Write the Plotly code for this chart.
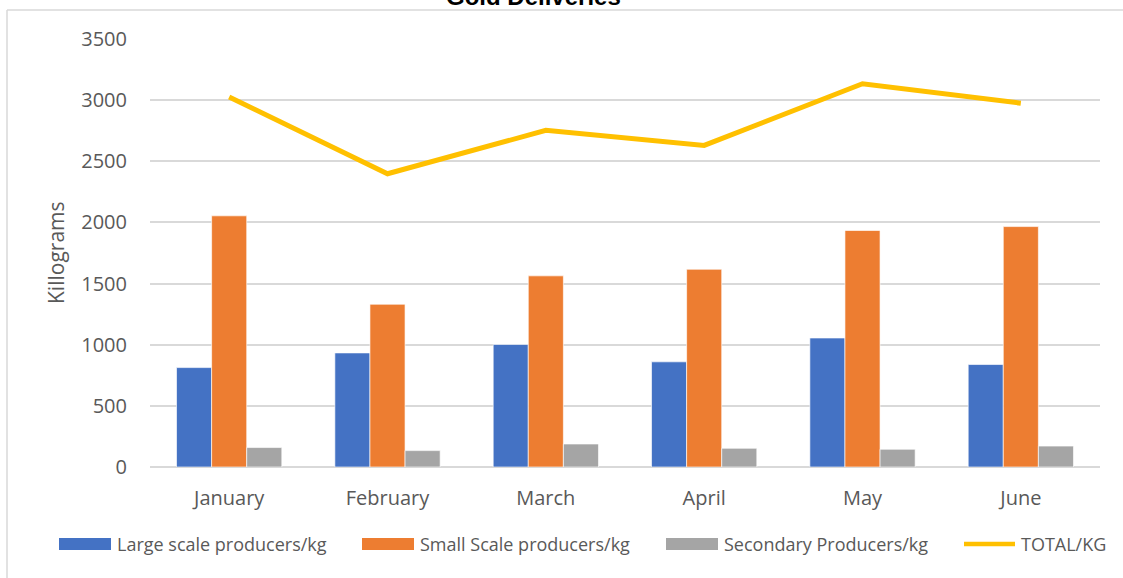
import plotly.graph_objects as go

# Monthly gold deliveries (kg)
months = ["January", "February", "March", "April", "May", "June"]
large_scale = [813, 933, 1002, 860, 1055, 838]
small_scale = [2054, 1331, 1563, 1617, 1934, 1966]
secondary = [159, 134, 188, 153, 145, 171]
total = [3026, 2398, 2753, 2630, 3134, 2975]

series_names = ["Large scale producers/kg", "Small Scale producers/kg",
                "Secondary Producers/kg", "TOTAL/KG"]
colors = ["#4472C4", "#ED7D31", "#A5A5A5", "#FFC000"]

W, H = 1123, 578
L, R, T, B = 150, 23, 39, 111
PW, PH = W - L - R, H - T - B

def px(x):
    return (x - L) / PW

def py(y):
    return (H - B - y) / PH

fig = go.Figure()
for vals, name, col in zip([large_scale, small_scale, secondary], series_names[:3], colors[:3]):
    fig.add_trace(go.Bar(x=months, y=vals, name=name, marker_color=col,
                         marker_line=dict(color="rgba(255,255,255,0.8)", width=0.8),
                         showlegend=False))
fig.add_trace(go.Scatter(x=months, y=total, name=series_names[3], mode="lines",
                         line=dict(color=colors[3], width=5), showlegend=False))

font_family = "Open Sans"
tick_color = "#595959"

fig.update_layout(
    width=W, height=H,
    margin=dict(l=L, r=R, t=T, b=B),
    paper_bgcolor="white", plot_bgcolor="white",
    barmode="group", bargap=0.335, bargroupgap=0,
    font=dict(family=font_family, color=tick_color),
    xaxis=dict(showgrid=False, showline=False, ticks="", zeroline=False,
               ticklabelstandoff=17,
               tickfont=dict(size=20, color=tick_color, family=font_family)),
    yaxis=dict(range=[0, 3500], dtick=500, showgrid=True, gridcolor="#D9D9D9",
               gridwidth=1.5, zeroline=True, zerolinecolor="#D9D9D9", zerolinewidth=1.5,
               showline=False, ticks="", ticklabelstandoff=22,
               tickfont=dict(size=20, color=tick_color, family=font_family)),
)

shapes = []
annotations = []

# chart frame (top and left edges)
shapes.append(dict(type="line", xref="paper", yref="paper",
                   x0=px(7), x1=px(W), y0=py(10), y1=py(10),
                   line=dict(color="#D9D9D9", width=1.5)))
shapes.append(dict(type="line", xref="paper", yref="paper",
                   x0=px(7), x1=px(7), y0=py(10), y1=py(H),
                   line=dict(color="#D9D9D9", width=1.5)))

# title
annotations.append(dict(text="<b>Gold Deliveries</b>", xref="paper", yref="paper",
                        x=px(533), y=py(-4), xanchor="center", yanchor="middle",
                        showarrow=False,
                        font=dict(family="Liberation Sans", size=24, color="black")))

# y-axis title
annotations.append(dict(text="Killograms", xref="paper", yref="paper",
                        x=px(56), y=py(253), xanchor="center", yanchor="middle",
                        textangle=-90, showarrow=False,
                        font=dict(family=font_family, size=21, color=tick_color)))

# legend
legend_y = 544
swatch_x = [59, 362, 666, 962]
for i, (name, col) in enumerate(zip(series_names, colors)):
    x0 = swatch_x[i]
    if i < 3:
        shapes.append(dict(type="rect", xref="paper", yref="paper",
                           x0=px(x0), x1=px(x0 + 52), y0=py(legend_y + 6), y1=py(legend_y - 6),
                           fillcolor=col, line=dict(width=0)))
        tx = x0 + 56
    else:
        shapes.append(dict(type="line", xref="paper", yref="paper",
                           x0=px(x0 + 2), x1=px(x0 + 53), y0=py(legend_y), y1=py(legend_y),
                           line=dict(color=col, width=4.5)))
        tx = x0 + 57
    annotations.append(dict(text=name, xref="paper", yref="paper",
                            x=px(tx), y=py(legend_y), xanchor="left", yanchor="middle",
                            showarrow=False,
                            font=dict(family=font_family, size=18, color=tick_color)))

fig.update_layout(shapes=shapes, annotations=annotations)
fig.write_html("out.html")
